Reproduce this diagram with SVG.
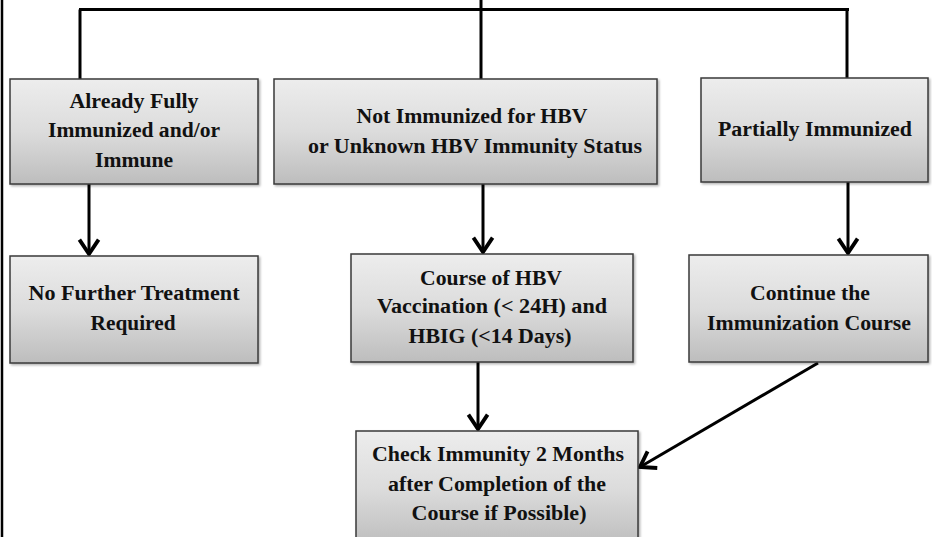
<svg xmlns="http://www.w3.org/2000/svg" width="932" height="537" viewBox="0 0 932 537">
  <style>
    .box { fill: url(#boxFill); stroke: #3a3a3a; stroke-width: 1.5; filter: url(#shadow); }
    .label { font-family: "Liberation Serif", "Times New Roman", serif; font-weight: bold; font-size: 20px; fill: #111; text-anchor: middle; }
    .wire { fill: none; stroke: #000; stroke-width: 3; }
    .arrow { fill: none; stroke: #000; stroke-width: 3; marker-end: url(#chevron); }
  </style>
  <defs>
    <linearGradient id="boxFill" x1="0" y1="0" x2="0" y2="1">
      <stop offset="0" stop-color="#ededed"/>
      <stop offset="0.5" stop-color="#dcdcdc"/>
      <stop offset="1" stop-color="#bdbdbd"/>
    </linearGradient>
    <filter id="shadow" x="-5%" y="-5%" width="112%" height="115%">
      <feDropShadow dx="1.5" dy="1.5" stdDeviation="1" flood-color="#000" flood-opacity="0.3"/>
    </filter>
    <marker id="chevron" markerUnits="userSpaceOnUse" markerWidth="24" markerHeight="24" viewBox="-14 -10 16 20" refX="0" refY="0" orient="auto">
      <path d="M-12,-8 L0,0 L-12,8" fill="none" stroke="#000" stroke-width="3.2" stroke-linejoin="miter"/>
    </marker>
  </defs>

  <rect width="932" height="537" fill="#fff"/>

  <!-- page frame on the left -->
  <line x1="2" y1="0" x2="2" y2="537" stroke="#000" stroke-width="2.5"/>

  <g id="connectors">
    <!-- distribution bar from the top -->
    <line class="wire" x1="481" y1="0" x2="481" y2="9.5"/>
    <line class="wire" x1="79" y1="9.5" x2="849" y2="9.5"/>
    <line class="wire" x1="80" y1="9.5" x2="80" y2="79"/>
    <line class="wire" x1="481" y1="9.5" x2="481" y2="79"/>
    <line class="wire" x1="847" y1="9.5" x2="847" y2="78"/>
    <!-- arrows between boxes -->
    <line class="arrow" x1="89" y1="184" x2="89" y2="254"/>
    <line class="arrow" x1="483" y1="184" x2="483" y2="252"/>
    <line class="arrow" x1="848" y1="182" x2="848" y2="253"/>
    <line class="arrow" x1="478" y1="362" x2="478" y2="429"/>
    <line class="arrow" x1="818" y1="363" x2="640" y2="467"/>
  </g>

  <g id="fully-immunized">
    <rect class="box" x="10" y="79" width="248" height="105"/>
    <text class="label" x="134" y="108" textLength="129" lengthAdjust="spacingAndGlyphs">Already Fully</text>
    <text class="label" x="134" y="137" textLength="172" lengthAdjust="spacingAndGlyphs">Immunized and/or</text>
    <text class="label" x="134" y="167" textLength="78" lengthAdjust="spacingAndGlyphs">Immune</text>
  </g>

  <g id="not-immunized">
    <rect class="box" x="274" y="79" width="383" height="105"/>
    <text class="label" x="472" y="123" textLength="231" lengthAdjust="spacingAndGlyphs">Not Immunized for HBV</text>
    <text class="label" x="475" y="153" textLength="334" lengthAdjust="spacingAndGlyphs">or Unknown HBV Immunity Status</text>
  </g>

  <g id="partially-immunized">
    <rect class="box" x="701" y="78" width="227" height="104"/>
    <text class="label" x="815" y="136" textLength="194" lengthAdjust="spacingAndGlyphs">Partially Immunized</text>
  </g>

  <g id="no-treatment">
    <rect class="box" x="10" y="256" width="248" height="107"/>
    <text class="label" x="134" y="300" textLength="211" lengthAdjust="spacingAndGlyphs">No Further Treatment</text>
    <text class="label" x="133" y="330" textLength="85" lengthAdjust="spacingAndGlyphs">Required</text>
  </g>

  <g id="vaccination-course">
    <rect class="box" x="351" y="254" width="282" height="108"/>
    <text class="label" x="491" y="285" textLength="142" lengthAdjust="spacingAndGlyphs">Course of HBV</text>
    <text class="label" x="492" y="313" textLength="230" lengthAdjust="spacingAndGlyphs">Vaccination (&lt; 24H) and</text>
    <text class="label" x="490" y="343" textLength="163" lengthAdjust="spacingAndGlyphs">HBIG (&lt;14 Days)</text>
  </g>

  <g id="continue-course">
    <rect class="box" x="689" y="255" width="239" height="107"/>
    <text class="label" x="810" y="300" textLength="120" lengthAdjust="spacingAndGlyphs">Continue the</text>
    <text class="label" x="809" y="330" textLength="204" lengthAdjust="spacingAndGlyphs">Immunization Course</text>
  </g>

  <g id="check-immunity">
    <rect class="box" x="356" y="431" width="282" height="115"/>
    <text class="label" x="498" y="461" textLength="252" lengthAdjust="spacingAndGlyphs">Check Immunity 2 Months</text>
    <text class="label" x="497" y="491" textLength="218" lengthAdjust="spacingAndGlyphs">after Completion of the</text>
    <text class="label" x="499" y="520" textLength="175" lengthAdjust="spacingAndGlyphs">Course if Possible)</text>
  </g>
</svg>
